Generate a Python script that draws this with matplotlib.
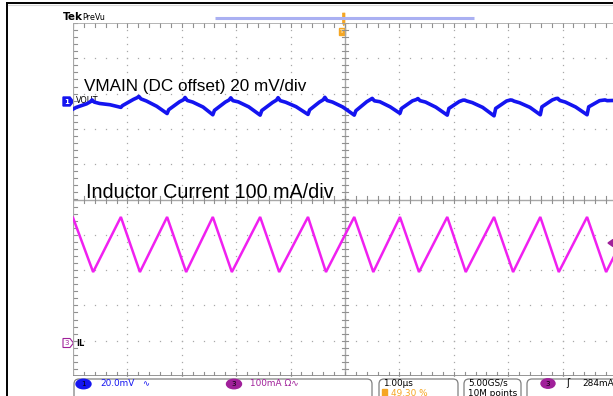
import numpy as np
import matplotlib
matplotlib.use("Agg")
import matplotlib.pyplot as plt
from matplotlib.patches import FancyBboxPatch, Polygon, Rectangle, Ellipse

# ---- Channel 3: inductor current (time in us, current in mA) ----
il_t = [-5.00, -4.63, -4.12, -3.77, -3.27, -2.92, -2.43, -2.08, -1.56, -1.21,
        -0.68, -0.35, 0.17, 0.52, 1.01, 1.36, 1.88, 2.22, 2.74, 3.09,
        3.59, 3.93, 4.45, 4.80, 5.00]
il_ma = [355, 201, 357, 201, 357, 201, 357, 201, 357, 201,
         357, 201, 357, 201, 357, 201, 357, 201, 357, 201,
         357, 201, 357, 201, 262]

# ---- Channel 1: output ripple (time in us, mV about the DC offset) ----
v_t = [-5.00, -4.94, -4.75, -4.68, -4.65, -4.61, -4.51, -4.32,
       -4.12, -4.09, -3.89, -3.82, -3.79, -3.75, -3.65, -3.46,
       -3.27, -3.24, -3.04, -2.97, -2.94, -2.90, -2.80, -2.61,
       -2.43, -2.40, -2.20, -2.13, -2.10, -2.06, -1.96, -1.77,
       -1.56, -1.53, -1.33, -1.26, -1.23, -1.19, -1.09, -0.90,
       -0.68, -0.65, -0.47, -0.40, -0.37, -0.33, -0.23, -0.04,
       0.17, 0.20, 0.40, 0.47, 0.50, 0.54, 0.64, 0.83,
       1.01, 1.04, 1.24, 1.31, 1.34, 1.38, 1.48, 1.67,
       1.88, 1.91, 2.10, 2.17, 2.20, 2.24, 2.34, 2.53,
       2.74, 2.77, 2.97, 3.04, 3.07, 3.11, 3.21, 3.40,
       3.59, 3.62, 3.81, 3.88, 3.91, 3.95, 4.05, 4.24,
       4.45, 4.48, 4.68, 4.75, 4.78, 4.82, 4.92, 5.00]
v_mv = [-4.0, -3.0, -1.0, 0.2, 1.2, 0.0, -0.8, -1.5,
        -3.0, -2.0, 1.5, 2.5, 3.2, 1.8, 0.6, -2.4,
        -6.5, -4.3, 0.2, 1.3, 2.6, 0.9, 0.0, -2.8,
        -7.2, -4.7, 0.0, 1.2, 2.4, 0.8, 0.1, -2.7,
        -7.4, -4.8, -0.2, 1.1, 2.5, 0.8, -0.1, -2.6,
        -7.0, -4.4, 0.0, 1.3, 2.7, 0.9, 0.0, -2.8,
        -7.4, -4.9, 0.2, 1.5, 2.1, 0.7, 0.2, -2.7,
        -6.4, -3.6, 0.7, 1.4, 2.0, 0.8, 0.0, -2.9,
        -7.4, -3.6, 0.3, 1.1, 1.1, 0.6, -0.3, -3.0,
        -7.8, -3.6, 0.6, 1.2, 1.1, 0.5, -0.4, -3.0,
        -7.2, -2.7, 1.2, 2.0, 2.1, 0.9, 0.0, -2.8,
        -7.2, -2.7, 0.8, 1.1, 1.2, 0.8, 0.9, 0.6]

W, H = 613, 396
GRID_L, GRID_R, GRID_T, GRID_B = 73, 617, 23, 376

BLUE = "#1414f0"
MAGENTA = "#f020f0"
PURPLE = "#a0209a"
ORANGE = "#f5a623"
GRID = "#a8a8a8"

fig = plt.figure(figsize=(W / 100, H / 100), dpi=100)
fig.patch.set_facecolor("white")


def fx(x):
    return x / W


def fy(y):
    return 1 - y / H


# overlay in pixel space for frame and status bar
ov = fig.add_axes([0, 0, 1, 1])
ov.set_xlim(0, W)
ov.set_ylim(H, 0)
ov.axis("off")

ov.plot([7, 7], [3, H], color="black", lw=1.4)
ov.plot([7, W], [3, 3], color="black", lw=1.4)
ov.plot([8, W], [5, 5], color="#d8d8d8", lw=0.8)

# record view bar
ov.plot([215, 474], [17.5, 17.5], color="#aab0f2", lw=2.2, solid_capstyle="butt")

# trigger position marker
ov.add_patch(Polygon([[342.5, 13], [345, 13], [345, 23], [343.8, 26], [342.5, 23]],
                     closed=True, fc=ORANGE, ec=ORANGE, lw=0.5))
ov.add_patch(Rectangle((338.5, 27.5), 6, 7, fc=ORANGE, ec=ORANGE))
ov.text(341.5, 31.5, "T", color="#ffe0a0", fontsize=4.5, ha="center", va="center",
        fontweight="bold")

# status bar boxes
for x0, x1 in [(74, 372), (379, 458), (464, 521), (527, 625)]:
    ov.add_patch(FancyBboxPatch((x0, 379), x1 - x0, 30,
                                boxstyle="round,pad=0,rounding_size=5",
                                fc="white", ec="#808080", lw=0.9))

# scope graticule axes (divisions)
ax = fig.add_axes([fx(GRID_L), fy(GRID_B), (GRID_R - GRID_L) / W, (GRID_B - GRID_T) / H])
ax.set_xlim(-5, 5)
ax.set_ylim(-5, 5)
ax.set_facecolor("none")
ax.axis("off")

minor = np.arange(-5, 5.001, 0.2)
for g in range(-4, 5):
    if g == 0:
        continue
    ax.plot(np.full_like(minor, g), minor, ls="none", marker="s", ms=0.9,
            mfc=GRID, mec="none")
    ax.plot(minor, np.full_like(minor, g), ls="none", marker="s", ms=0.9,
            mfc=GRID, mec="none")

# centre cross with minor ticks
ax.plot([0, 0], [-5, 5], color=GRID, lw=1.0)
ax.plot([-5, 5], [0, 0], color=GRID, lw=1.0)
for m in minor:
    ax.plot([-0.05, 0.05], [m, m], color="#909090", lw=0.8)
    ax.plot([m, m], [-0.09, 0.09], color="#909090", lw=0.8)
    ax.plot([-5, -4.93], [m, m], color="#909090", lw=0.8)
    ax.plot([m, m], [5, 4.9], color="#909090", lw=0.8)
    ax.plot([m, m], [-5, -4.9], color="#909090", lw=0.8)

# outer frame
ax.plot([-5, -5], [-5, 5], color=GRID, lw=1.6)
ax.plot([-5, 5], [5, 5], color=GRID, lw=1.2)
ax.plot([-5, 5], [-5, -5], color="#8c8c8c", lw=2.0)

# channel axes share the time base
ax_v = ax.twinx()
ax_v.set_ylim(-155.2, 44.8)  # 20 mV/div
ax_v.axis("off")
ax_v.plot(v_t, v_mv, color=BLUE, lw=2.6, solid_joinstyle="round")

ax_i = ax.twinx()
ax_i.set_ylim(-93.5, 906.5)  # 100 mA/div
ax_i.axis("off")
ax_i.plot(il_t, il_ma, color=MAGENTA, lw=1.8, solid_joinstyle="miter")

# annotations
fig.text(fx(63), fy(17), "Tek", fontsize=7.5, fontweight="bold", va="center",
         family="DejaVu Sans")
fig.text(fx(82), fy(17), "PreVu", fontsize=5.8, va="center", family="DejaVu Sans")

fig.text(fx(84.5), fy(86), "VMAIN (DC offset) 20 mV/div", fontsize=12.3,
         family="Liberation Sans", va="center")
fig.text(fx(85.5), fy(192.5), "Inductor Current 100 mA/div", fontsize=14.2,
         family="Liberation Sans", va="center")

# channel reference markers
ov.add_patch(Polygon([[63, 97], [70, 97], [73.5, 101.5], [70, 106], [63, 106]],
                     closed=True, fc=BLUE, ec=BLUE))
ov.text(66.5, 101.5, "1", color="white", fontsize=5, ha="center", va="center",
        fontweight="bold")
ov.text(76, 100.5, "VOUT", color="black", fontsize=5.8, va="center")

ov.add_patch(Polygon([[63, 338.5], [70, 338.5], [73.5, 343], [70, 347.5], [63, 347.5]],
                     closed=True, fc="white", ec=PURPLE, lw=0.8))
ov.text(67, 343, "3", color=PURPLE, fontsize=5, ha="center", va="center")
ov.text(76.5, 343, "IL", color="black", fontsize=6, va="center", fontweight="bold")

# trigger level marker
ov.add_patch(Polygon([[608, 243], [613, 239.5], [613, 246.5]], closed=True,
                     fc=PURPLE, ec=PURPLE))

# status bar contents
ov.add_patch(Ellipse((83.5, 384), 15, 9.5, fc=BLUE, ec=BLUE))
ov.text(83.5, 384, "1", color="black", fontsize=5, ha="center", va="center")
ov.text(100, 384, "20.0mV", color=BLUE, fontsize=6.4, va="center")
ov.text(142, 384, "\u223f", color=BLUE, fontsize=6, va="center")

ov.add_patch(Ellipse((234, 384), 15, 9.5, fc=PURPLE, ec=PURPLE))
ov.text(234, 384, "3", color="black", fontsize=5, ha="center", va="center")
ov.text(250, 384, "100mA \u03a9\u223f", color=PURPLE, fontsize=6.4, va="center")

ov.text(383, 383.5, "1.00\u00b5s", color="black", fontsize=6.4, va="center")
ov.add_patch(Rectangle((381.5, 389), 5.5, 6.5, fc=ORANGE, ec=ORANGE))
ov.text(391, 393, "49.30 %", color=ORANGE, fontsize=6.4, va="center")

ov.text(468, 383.5, "5.00GS/s", color="black", fontsize=6.4, va="center")
ov.text(468, 393, "10M points", color="black", fontsize=6.4, va="center")

ov.add_patch(Ellipse((548, 383.5), 14, 9.5, fc=PURPLE, ec=PURPLE))
ov.text(548, 383.5, "3", color="black", fontsize=5, ha="center", va="center")
ov.text(566, 383.5, "\u0283", color="black", fontsize=7, va="center")
ov.text(582, 383.5, "284mA", color="black", fontsize=6.4, va="center")

fig.savefig("out.png", dpi=100)
